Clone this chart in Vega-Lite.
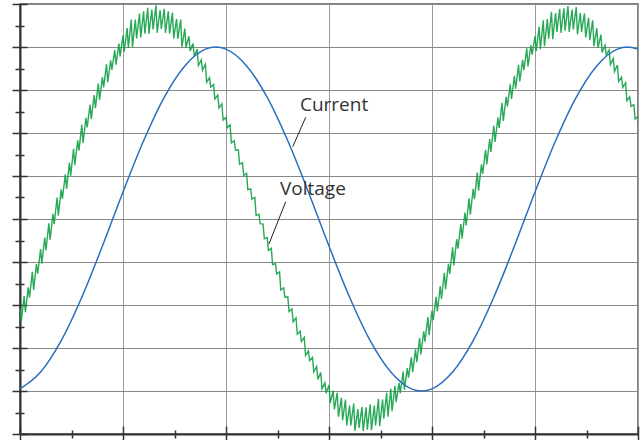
{
  "$schema": "https://vega.github.io/schema/vega-lite/v6.json",
  "width": 618,
  "height": 430,
  "autosize": {"type": "none"},
  "padding": {"left": 20, "top": 4, "right": 6, "bottom": 6},
  "background": "white",
  "config": {"view": {"stroke": "#555", "strokeWidth": 1.5}},
  "datasets": {
    "current": [
      {"t":0,"v":1.05},{"t":0.2,"v":1.44},{"t":0.4,"v":2.17},{"t":0.6,"v":3.18},{"t":0.8,"v":4.37},{"t":1.0,"v":5.63},{"t":1.2,"v":6.82},{"t":1.4,"v":7.83},{"t":1.6,"v":8.56},{"t":1.8,"v":8.95},{"t":1.9,"v":9.0},{"t":2.0,"v":8.95},{"t":2.2,"v":8.56},{"t":2.4,"v":7.83},{"t":2.6,"v":6.82},{"t":2.8,"v":5.63},{"t":3.0,"v":4.37},{"t":3.2,"v":3.18},{"t":3.4,"v":2.17},{"t":3.6,"v":1.44},{"t":3.8,"v":1.05},{"t":3.9,"v":1.0},{"t":4.0,"v":1.05},{"t":4.2,"v":1.44},{"t":4.4,"v":2.17},{"t":4.6,"v":3.18},{"t":4.8,"v":4.37},{"t":5.0,"v":5.63},{"t":5.2,"v":6.82},{"t":5.4,"v":7.83},{"t":5.6,"v":8.56},{"t":5.8,"v":8.95},{"t":5.9,"v":9.0},{"t":6.0,"v":8.95}
    ],
    "voltage": [
      {"t":0,"v":2.91},{"t":0.012,"v":2.61},{"t":0.04,"v":3.21},{"t":0.052,"v":2.83},{"t":0.08,"v":3.41},{"t":0.092,"v":3.17},{"t":0.12,"v":3.77},{"t":0.132,"v":3.35},{"t":0.16,"v":3.95},{"t":0.172,"v":3.73},{"t":0.2,"v":4.30},{"t":0.212,"v":3.96},{"t":0.24,"v":4.57},{"t":0.252,"v":4.27},{"t":0.28,"v":4.90},{"t":0.292,"v":4.52},{"t":0.32,"v":5.12},{"t":0.332,"v":4.88},{"t":0.36,"v":5.50},{"t":0.372,"v":5.08},{"t":0.4,"v":5.69},{"t":0.412,"v":5.47},{"t":0.44,"v":6.04},{"t":0.452,"v":5.70},{"t":0.48,"v":6.31},{"t":0.492,"v":6.01},{"t":0.52,"v":6.63},{"t":0.532,"v":6.25},{"t":0.56,"v":6.83},{"t":0.572,"v":6.59},{"t":0.6,"v":7.19},{"t":0.612,"v":6.77},{"t":0.64,"v":7.35},{"t":0.652,"v":7.13},{"t":0.68,"v":7.66},{"t":0.692,"v":7.32},{"t":0.72,"v":7.88},{"t":0.732,"v":7.58},{"t":0.76,"v":8.15},{"t":0.772,"v":7.77},{"t":0.8,"v":8.30},{"t":0.812,"v":8.06},{"t":0.84,"v":8.60},{"t":0.852,"v":8.18},{"t":0.88,"v":8.69},{"t":0.892,"v":8.47},{"t":0.92,"v":8.93},{"t":0.932,"v":8.59},{"t":0.96,"v":9.08},{"t":0.972,"v":8.78},{"t":1.0,"v":9.27},{"t":1.012,"v":8.89},{"t":1.04,"v":9.44},{"t":1.052,"v":8.98},{"t":1.08,"v":9.64},{"t":1.092,"v":9.00},{"t":1.12,"v":9.64},{"t":1.132,"v":9.20},{"t":1.16,"v":9.78},{"t":1.172,"v":9.22},{"t":1.2,"v":9.83},{"t":1.212,"v":9.31},{"t":1.24,"v":9.91},{"t":1.252,"v":9.31},{"t":1.28,"v":9.87},{"t":1.292,"v":9.41},{"t":1.32,"v":9.97},{"t":1.332,"v":9.33},{"t":1.36,"v":9.86},{"t":1.372,"v":9.42},{"t":1.4,"v":9.89},{"t":1.412,"v":9.33},{"t":1.44,"v":9.83},{"t":1.452,"v":9.31},{"t":1.48,"v":9.80},{"t":1.492,"v":9.20},{"t":1.52,"v":9.65},{"t":1.532,"v":9.19},{"t":1.56,"v":9.64},{"t":1.572,"v":9.00},{"t":1.6,"v":9.43},{"t":1.612,"v":8.99},{"t":1.64,"v":9.25},{"t":1.652,"v":8.91},{"t":1.68,"v":9.08},{"t":1.692,"v":8.78},{"t":1.72,"v":8.95},{"t":1.732,"v":8.57},{"t":1.76,"v":8.70},{"t":1.772,"v":8.46},{"t":1.8,"v":8.60},{"t":1.812,"v":8.18},{"t":1.84,"v":8.29},{"t":1.852,"v":8.07},{"t":1.88,"v":8.13},{"t":1.892,"v":7.79},{"t":1.92,"v":7.88},{"t":1.932,"v":7.58},{"t":1.96,"v":7.68},{"t":1.972,"v":7.30},{"t":2.0,"v":7.36},{"t":2.012,"v":7.12},{"t":2.04,"v":7.19},{"t":2.052,"v":6.77},{"t":2.08,"v":6.82},{"t":2.092,"v":6.60},{"t":2.12,"v":6.61},{"t":2.132,"v":6.27},{"t":2.16,"v":6.31},{"t":2.172,"v":6.01},{"t":2.2,"v":6.06},{"t":2.212,"v":5.68},{"t":2.24,"v":5.70},{"t":2.252,"v":5.46},{"t":2.28,"v":5.50},{"t":2.292,"v":5.08},{"t":2.32,"v":5.11},{"t":2.332,"v":4.89},{"t":2.36,"v":4.88},{"t":2.372,"v":4.54},{"t":2.4,"v":4.57},{"t":2.412,"v":4.27},{"t":2.44,"v":4.32},{"t":2.452,"v":3.94},{"t":2.48,"v":3.96},{"t":2.492,"v":3.72},{"t":2.52,"v":3.77},{"t":2.532,"v":3.35},{"t":2.56,"v":3.40},{"t":2.572,"v":3.18},{"t":2.6,"v":3.19},{"t":2.612,"v":2.85},{"t":2.64,"v":2.91},{"t":2.652,"v":2.61},{"t":2.68,"v":2.70},{"t":2.692,"v":2.32},{"t":2.72,"v":2.39},{"t":2.732,"v":2.15},{"t":2.76,"v":2.25},{"t":2.772,"v":1.83},{"t":2.8,"v":1.93},{"t":2.812,"v":1.71},{"t":2.84,"v":1.78},{"t":2.852,"v":1.44},{"t":2.88,"v":1.57},{"t":2.892,"v":1.27},{"t":2.92,"v":1.43},{"t":2.932,"v":1.05},{"t":2.96,"v":1.19},{"t":2.972,"v":0.95},{"t":3.0,"v":1.14},{"t":3.012,"v":0.72},{"t":3.04,"v":1.01},{"t":3.052,"v":0.57},{"t":3.08,"v":0.96},{"t":3.092,"v":0.40},{"t":3.12,"v":0.84},{"t":3.132,"v":0.32},{"t":3.16,"v":0.80},{"t":3.172,"v":0.20},{"t":3.2,"v":0.66},{"t":3.212,"v":0.20},{"t":3.24,"v":0.71},{"t":3.252,"v":0.07},{"t":3.28,"v":0.58},{"t":3.292,"v":0.14},{"t":3.32,"v":0.63},{"t":3.332,"v":0.07},{"t":3.36,"v":0.62},{"t":3.372,"v":0.10},{"t":3.4,"v":0.69},{"t":3.412,"v":0.09},{"t":3.44,"v":0.66},{"t":3.452,"v":0.20},{"t":3.48,"v":0.82},{"t":3.492,"v":0.18},{"t":3.52,"v":0.80},{"t":3.532,"v":0.36},{"t":3.56,"v":0.96},{"t":3.572,"v":0.40},{"t":3.6,"v":1.05},{"t":3.612,"v":0.53},{"t":3.64,"v":1.12},{"t":3.652,"v":0.74},{"t":3.68,"v":1.19},{"t":3.692,"v":0.95},{"t":3.72,"v":1.45},{"t":3.732,"v":1.03},{"t":3.76,"v":1.53},{"t":3.772,"v":1.31},{"t":3.8,"v":1.78},{"t":3.812,"v":1.44},{"t":3.84,"v":1.97},{"t":3.852,"v":1.67},{"t":3.88,"v":2.23},{"t":3.892,"v":1.85},{"t":3.92,"v":2.39},{"t":3.932,"v":2.15},{"t":3.96,"v":2.72},{"t":3.972,"v":2.30},{"t":4.0,"v":2.87},{"t":4.012,"v":2.65},{"t":4.04,"v":3.19},{"t":4.052,"v":2.85},{"t":4.08,"v":3.44},{"t":4.092,"v":3.14},{"t":4.12,"v":3.75},{"t":4.132,"v":3.37},{"t":4.16,"v":3.96},{"t":4.172,"v":3.72},{"t":4.2,"v":4.34},{"t":4.212,"v":3.92},{"t":4.24,"v":4.53},{"t":4.252,"v":4.31},{"t":4.28,"v":4.88},{"t":4.292,"v":4.54},{"t":4.32,"v":5.15},{"t":4.332,"v":4.85},{"t":4.36,"v":5.48},{"t":4.372,"v":5.10},{"t":4.4,"v":5.70},{"t":4.412,"v":5.46},{"t":4.44,"v":6.08},{"t":4.452,"v":5.66},{"t":4.48,"v":6.27},{"t":4.492,"v":6.05},{"t":4.52,"v":6.61},{"t":4.532,"v":6.27},{"t":4.56,"v":6.86},{"t":4.572,"v":6.56},{"t":4.6,"v":7.17},{"t":4.612,"v":6.79},{"t":4.64,"v":7.36},{"t":4.652,"v":7.12},{"t":4.68,"v":7.70},{"t":4.692,"v":7.28},{"t":4.72,"v":7.84},{"t":4.732,"v":7.62},{"t":4.76,"v":8.13},{"t":4.772,"v":7.79},{"t":4.8,"v":8.33},{"t":4.812,"v":8.03},{"t":4.84,"v":8.58},{"t":4.852,"v":8.20},{"t":4.88,"v":8.70},{"t":4.892,"v":8.46},{"t":4.92,"v":8.97},{"t":4.932,"v":8.55},{"t":4.96,"v":9.04},{"t":4.972,"v":8.82},{"t":5.0,"v":9.25},{"t":5.012,"v":8.91},{"t":5.04,"v":9.47},{"t":5.052,"v":8.95},{"t":5.08,"v":9.62},{"t":5.092,"v":9.02},{"t":5.12,"v":9.65},{"t":5.132,"v":9.19},{"t":5.16,"v":9.82},{"t":5.172,"v":9.18},{"t":5.2,"v":9.79},{"t":5.212,"v":9.35},{"t":5.24,"v":9.89},{"t":5.252,"v":9.33},{"t":5.28,"v":9.90},{"t":5.292,"v":9.38},{"t":5.32,"v":9.95},{"t":5.332,"v":9.35},{"t":5.36,"v":9.87},{"t":5.372,"v":9.41},{"t":5.4,"v":9.93},{"t":5.412,"v":9.29},{"t":5.44,"v":9.79},{"t":5.452,"v":9.35},{"t":5.48,"v":9.78},{"t":5.492,"v":9.22},{"t":5.52,"v":9.68},{"t":5.532,"v":9.16},{"t":5.56,"v":9.62},{"t":5.572,"v":9.02},{"t":5.6,"v":9.44},{"t":5.612,"v":8.98},{"t":5.64,"v":9.29},{"t":5.652,"v":8.87},{"t":5.68,"v":9.04},{"t":5.692,"v":8.82},{"t":5.72,"v":8.93},{"t":5.732,"v":8.59},{"t":5.76,"v":8.73},{"t":5.772,"v":8.43},{"t":5.8,"v":8.58},{"t":5.812,"v":8.20},{"t":5.84,"v":8.30},{"t":5.852,"v":8.06},{"t":5.88,"v":8.17},{"t":5.892,"v":7.75},{"t":5.92,"v":7.84},{"t":5.932,"v":7.62},{"t":5.96,"v":7.66},{"t":5.972,"v":7.32},{"t":6.0,"v":7.39}
    ],
    "labels": [
      {"t":2.718,"v":7.51,"label":"Current"},
      {"t":2.524,"v":5.56,"label":"Voltage"}
    ],
    "leaders": [
      {"t":2.774,"v":7.365,"t2":2.648,"v2":6.681},
      {"t":2.580,"v":5.402,"t2":2.417,"v2":4.419}
    ]
  },
  "resolve": {"axis": {"x": "independent", "y": "independent"}},
  "layer": [
    {
      "data": {"name": "voltage"},
      "mark": {"type": "line", "color": "#11a045", "strokeWidth": 1.4, "opacity": 0.9},
      "encoding": {
        "x": {"field": "t", "type": "quantitative",
          "scale": {"domain": [0, 6], "nice": false, "zero": false},
          "axis": {"orient": "bottom", "title": null, "labels": false,
            "values": [0,0.5,1,1.5,2,2.5,3,3.5,4,4.5,5,5.5,6],
            "grid": true, "gridColor": "#999", "gridWidth": 1,
            "gridOpacity": {"condition": {"test": "datum.value % 1 === 0", "value": 1}, "value": 0},
            "domain": true, "domainColor": "#333", "domainWidth": 2,
            "ticks": true, "tickColor": "#333", "tickWidth": 1.5,
            "tickSize": {"condition": {"test": "datum.value % 1 === 0", "value": 6}, "value": 4}}},
        "y": {"field": "v", "type": "quantitative",
          "scale": {"domain": [0, 10], "nice": false, "zero": false},
          "axis": {"orient": "left", "title": null, "labels": false,
            "values": [0,0.5,1,1.5,2,2.5,3,3.5,4,4.5,5,5.5,6,6.5,7,7.5,8,8.5,9,9.5,10],
            "grid": true, "gridColor": "#888", "gridWidth": 1,
            "gridOpacity": {"condition": {"test": "datum.value % 1 === 0", "value": 1}, "value": 0},
            "domain": true, "domainColor": "#333", "domainWidth": 2,
            "ticks": true, "tickColor": "#333", "tickWidth": 1.5,
            "tickSize": {"condition": {"test": "datum.value % 1 === 0", "value": 8}, "value": 5}}}
      }
    },
    {
      "data": {"name": "current"},
      "mark": {"type": "line", "color": "#2a6ebf", "strokeWidth": 1.5, "interpolate": "monotone"},
      "encoding": {
        "x": {"field": "t", "type": "quantitative",
          "axis": {"orient": "bottom", "title": null, "labels": false, "grid": false, "domain": false,
            "values": [0,0.5,1,1.5,2,2.5,3,3.5,4,4.5,5,5.5,6],
            "ticks": true, "tickColor": "#333", "tickWidth": 1.5,
            "tickSize": {"condition": {"test": "datum.value % 1 === 0", "value": -8}, "value": -4}}},
        "y": {"field": "v", "type": "quantitative",
          "axis": {"orient": "left", "title": null, "labels": false, "grid": false, "domain": false,
            "values": [0,0.5,1,1.5,2,2.5,3,3.5,4,4.5,5,5.5,6,6.5,7,7.5,8,8.5,9,9.5,10],
            "ticks": true, "tickColor": "#333", "tickWidth": 1.5,
            "tickSize": {"condition": {"test": "datum.value % 1 === 0", "value": -7}, "value": -4}}}
      }
    },
    {
      "data": {"name": "leaders"},
      "mark": {"type": "rule", "color": "#222", "strokeWidth": 1},
      "encoding": {
        "x": {"field": "t", "type": "quantitative", "axis": null},
        "y": {"field": "v", "type": "quantitative", "axis": null},
        "x2": {"field": "t2"},
        "y2": {"field": "v2"}
      }
    },
    {
      "data": {"name": "labels"},
      "mark": {"type": "text", "align": "left", "baseline": "alphabetic", "font": "Open Sans", "fontSize": 19, "color": "#333"},
      "encoding": {
        "x": {"field": "t", "type": "quantitative", "axis": null},
        "y": {"field": "v", "type": "quantitative", "axis": null},
        "text": {"field": "label"}
      }
    }
  ]
}
